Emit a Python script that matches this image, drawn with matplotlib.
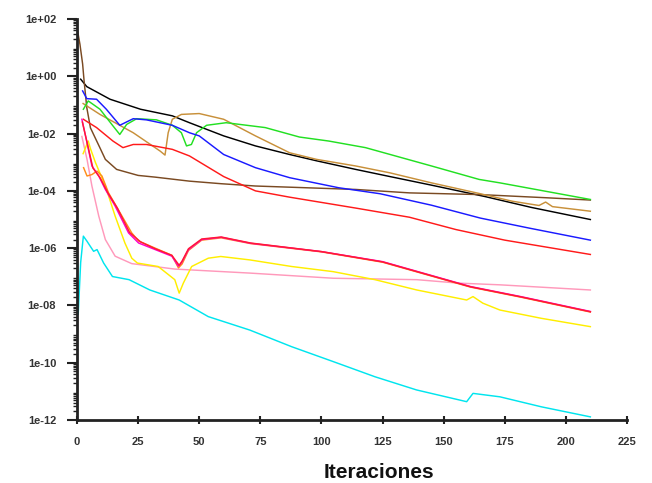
import numpy as np
import matplotlib
matplotlib.use('Agg')
import matplotlib.pyplot as plt
from matplotlib.ticker import FixedLocator, LogLocator, NullFormatter

# ── Residual history (x = iteration, exp = log10) ──
black_x   = [1.5, 4, 13.5, 26, 39, 46, 60, 73, 87, 98, 114, 128, 145, 167, 186, 210]
black_exp = [-0.1, -0.36, -0.8, -1.15, -1.38, -1.62, -2.08, -2.43, -2.73, -2.95,
             -3.25, -3.5, -3.8, -4.2, -4.58, -5.0]

blue_x   = [2.3, 4, 8, 12, 17.5, 23, 28.4, 39, 46, 50, 60, 73, 87, 107, 124, 145,
            165, 185, 210]
blue_exp = [-0.51, -0.78, -0.8, -1.15, -1.71, -1.48, -1.52, -1.71, -1.97, -2.08,
            -2.73, -3.19, -3.54, -3.89, -4.1, -4.5, -4.95, -5.3, -5.72]

green_x   = [2.6, 4.6, 9.4, 14.7, 17.5, 20.3, 24.4, 32.5, 39, 42.7, 44.8, 46.8,
             48.9, 53, 61, 77, 91, 103, 118, 145, 164.5, 173, 210]
green_exp = [-1.15, -0.86, -1.15, -1.73, -2.03, -1.68, -1.48, -1.52, -1.71, -1.97,
             -2.43, -2.38, -1.97, -1.71, -1.62, -1.79, -2.12, -2.26, -2.49, -3.13,
             -3.6, -3.72, -4.3]

tan_x   = [2.5, 9.4, 23, 34, 36, 37.3, 39, 42.7, 50, 60, 73, 87, 98, 114, 128, 145,
           164.5, 178, 189, 191.7, 194.5, 210]
tan_exp = [-0.95, -1.33, -1.97, -2.61, -2.75, -1.97, -1.5, -1.33, -1.3, -1.5, -2.08,
           -2.67, -2.9, -3.13, -3.37, -3.72, -4.09, -4.36, -4.51, -4.39, -4.55, -4.71]

brown_x   = [0.1, 1.2, 2.3, 2.9, 4, 5.5, 9.4, 11.6, 16.2, 25, 32, 46, 59, 73, 114,
             136, 165, 192, 210]
brown_exp = [1.65, 1.12, 0.43, -0.16, -1.09, -1.8, -2.5, -2.9, -3.25, -3.46, -3.52,
             -3.66, -3.75, -3.83, -3.95, -4.07, -4.13, -4.24, -4.32]

red_x   = [2.6, 8, 14.7, 18.8, 23, 28.4, 39, 46, 60, 73, 87, 114, 136, 155, 175, 210]
red_exp = [-1.5, -1.79, -2.26, -2.49, -2.38, -2.38, -2.55, -2.78, -3.5, -4.0, -4.22,
           -4.6, -4.92, -5.35, -5.72, -6.22]

magenta_x   = [2, 4.1, 6.1, 8.9, 11.6, 15.6, 21.1, 25.2, 32, 38.8, 41.5, 42.8, 45.6,
               51, 59, 71, 100, 125, 149, 161, 181.5, 210]
magenta_exp = [-1.5, -2.32, -3.13, -3.48, -3.95, -4.53, -5.47, -5.82, -6.05, -6.28,
               -6.63, -6.5, -6.05, -5.7, -5.62, -5.83, -6.12, -6.47, -7.05, -7.34,
               -7.69, -8.21]

red2_x   = [2.2, 4.5, 6.5, 9.5, 12.5, 16.5, 21.5, 26, 32, 38.8, 41.8, 43, 45.6, 51,
            59, 71, 100, 125, 149, 161, 181.5, 210]
red2_exp = [-1.6, -2.45, -3.2, -3.55, -4.05, -4.6, -5.45, -5.78, -6.02, -6.25, -6.6,
            -6.45, -6.02, -5.68, -5.61, -5.82, -6.12, -6.48, -7.06, -7.35, -7.7, -8.22]

orange_x   = [2.7, 4.1, 6.1, 8.2, 10.2, 12.9, 18.4, 22.4, 25.2, 32, 38.8, 41.5, 43,
              45.6, 51, 59, 71, 100, 125, 149, 161, 181.5, 210]
orange_exp = [-3.19, -3.48, -3.43, -3.31, -3.48, -4.07, -4.88, -5.47, -5.75, -6.0,
              -6.25, -6.69, -6.55, -6.08, -5.72, -5.64, -5.84, -6.13, -6.49, -7.07,
              -7.36, -7.71, -8.23]

yellow_x   = [2.5, 4.6, 5.4, 7.5, 11.6, 15.6, 19.6, 22.4, 24.7, 33.2, 40, 41.8, 43.5,
              46.9, 53.7, 58.8, 70.7, 87.8, 104.8, 121.9, 139, 159.4, 162, 166, 173,
              190, 210]
yellow_exp = [-2.7, -2.26, -2.5, -3.0, -3.83, -4.88, -5.82, -6.35, -6.52, -6.64, -7.1,
              -7.57, -7.22, -6.64, -6.35, -6.29, -6.41, -6.64, -6.82, -7.1, -7.46,
              -7.81, -7.69, -7.92, -8.16, -8.45, -8.74]

pink_x   = [2, 4.1, 6.1, 8.9, 11.6, 15.6, 22.4, 40, 70.7, 104.8, 139, 156, 173, 210]
pink_exp = [-2.1, -2.9, -3.83, -4.88, -5.7, -6.28, -6.54, -6.73, -6.87, -7.05, -7.1,
            -7.22, -7.28, -7.46]

cyan_x   = [0.5, 1.5, 2.6, 4.1, 5.4, 6.8, 8.2, 10.9, 14.5, 21.3, 29.8, 41.8, 53.7,
            70.7, 87.8, 104.8, 121.9, 138.9, 159.4, 162, 173, 190, 210]
cyan_exp = [-8.3, -6.5, -5.58, -5.76, -5.93, -6.11, -6.05, -6.52, -6.99, -7.1, -7.46,
            -7.81, -8.39, -8.86, -9.44, -9.96, -10.49, -10.95, -11.36, -11.07, -11.19,
            -11.54, -11.89]

series = [
    (black_x,   black_exp,   '#000000'),
    (brown_x,   brown_exp,   '#7a4a22'),
    (tan_x,     tan_exp,     '#c8903a'),
    (green_x,   green_exp,   '#22e022'),
    (blue_x,    blue_exp,    '#1a1aff'),
    (red_x,     red_exp,     '#ff1a1a'),
    (pink_x,    pink_exp,    '#ff99bb'),
    (yellow_x,  yellow_exp,  '#ffee00'),
    (orange_x,  orange_exp,  '#ff8c1a'),
    (magenta_x, magenta_exp, '#ff00cc'),
    (red2_x,    red2_exp,    '#ff1a33'),
    (cyan_x,    cyan_exp,    '#00e5ee'),
]

xticks = [0, 25, 50, 75, 100, 125, 150, 175, 200, 225]
ydecades = list(range(-12, 3, 2))

# ── Figure ──
fig = plt.figure(figsize=(6.52, 4.83), dpi=100)
fig.patch.set_facecolor('white')
ax = fig.add_axes([0.1181, 0.1304, 0.8436, 0.8302])

for xs, ex, col in series:
    ax.plot(xs, 10.0 ** np.array(ex), color=col, lw=1.05, solid_joinstyle='round')

ax.set_yscale('log')
ax.set_xlim(0, 225)
ax.set_ylim(1e-12, 1e2)

ax.xaxis.set_major_locator(FixedLocator(xticks))
ax.set_xticklabels([str(v) for v in xticks])
ax.yaxis.set_major_locator(FixedLocator([10.0 ** e for e in ydecades]))
ax.set_yticklabels([f'1e{e:+03d}' for e in ydecades])
ax.yaxis.set_minor_locator(LogLocator(base=10, subs=np.arange(2, 10), numticks=100))
ax.yaxis.set_minor_formatter(NullFormatter())

for sp in ['top', 'right']:
    ax.spines[sp].set_visible(False)
for sp in ['left', 'bottom']:
    ax.spines[sp].set_linewidth(2)
    ax.spines[sp].set_color('#222222')

tick_font = dict(family=['Liberation Sans', 'DejaVu Sans'], size=8, weight='bold')
ax.tick_params(axis='y', which='major', direction='out', length=7, width=1.5,
               pad=8, colors='#222222')
ax.tick_params(axis='y', which='minor', direction='out', length=3, width=1,
               colors='#222222')
ax.tick_params(axis='x', which='major', direction='inout', length=6, width=1.5,
               pad=9, colors='#222222')
for lab in ax.get_xticklabels() + ax.get_yticklabels():
    lab.set_fontfamily(tick_font['family'])
    lab.set_fontsize(tick_font['size'])
    lab.set_fontweight(tick_font['weight'])
    lab.set_color('#333333')

fig.text(379 / 652, 1 - 473 / 483, 'Iteraciones', ha='center', va='center',
         fontsize=15, fontweight='bold', color='#111111',
         family=['Liberation Sans Narrow', 'Liberation Sans', 'DejaVu Sans'])

fig.savefig('out.png', dpi=100, facecolor='white')
